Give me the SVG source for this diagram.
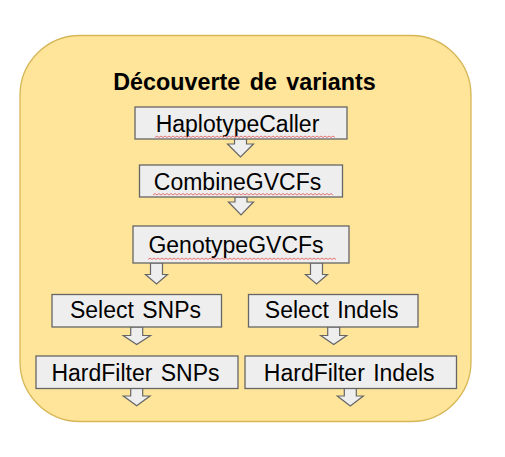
<svg xmlns="http://www.w3.org/2000/svg" width="505" height="457" viewBox="0 0 505 457">
  <style>
    .box { fill: #EEEEEE; stroke: #666666; stroke-width: 1.3; }
    .lbl { font-family: "Liberation Sans", Arial, sans-serif; font-size: 23px; fill: #000000; text-anchor: middle; word-spacing: 2px; }
    .title { font-family: "Liberation Sans", Arial, sans-serif; font-size: 23.3px; font-weight: bold; fill: #000000; text-anchor: middle; word-spacing: 3px; }
    .arr { fill: #EEEEEE; stroke: #666666; stroke-width: 1.2; stroke-linejoin: miter; }
    .squig { fill: none; stroke: #E57373; stroke-width: 1; }
  </style>
  <g id="container">
    <rect x="20" y="35.5" width="451" height="386" rx="60" ry="60" fill="#FFE599" stroke="#D6B656" stroke-width="1.3"/>
    <text class="title" x="244.5" y="90">Découverte de variants</text>
  </g>
  <g id="connectors">
    <polygon class="arr" points="234.5,139 246.5,139 246.5,144 253.5,144 240.5,157 227.5,144 234.5,144"/>
    <polygon class="arr" points="235,197 247,197 247,202 253.5,202 241,215 228.5,202 235,202"/>
    <polygon class="arr" points="150.5,263 162.5,263 162.5,274.5 167.5,274.5 156.5,284 145.5,274.5 150.5,274.5"/>
    <polygon class="arr" points="310.5,263 322.5,263 322.5,274.5 327.5,274.5 316.5,284 305.5,274.5 310.5,274.5"/>
    <polygon class="arr" points="130.7,327 142.7,327 142.7,335.5 150.5,335.5 136.7,344.5 123.2,335.5 130.7,335.5"/>
    <polygon class="arr" points="327.7,327 339.7,327 339.7,335.5 346.7,335.5 333.7,344.5 320.7,335.5 327.7,335.5"/>
    <polygon class="arr" points="130.7,388 142.7,388 142.7,396 150,396 136.7,405.7 123.3,396 130.7,396"/>
    <polygon class="arr" points="344.3,388 356.3,388 356.3,396 363.3,396 350.3,406 337.3,396 344.3,396"/>
  </g>
  <g id="n-haplotypecaller">
    <rect class="box" x="135" y="107" width="212" height="32"/>
    <text class="lbl" x="237.5" y="131.5">HaplotypeCaller</text>
    <path class="squig" d="M155,137.5 l2,-1.5 l2,1.5 l2,-1.5 l2,1.5 l2,-1.5 l2,1.5 l2,-1.5 l2,1.5 l2,-1.5 l2,1.5 l2,-1.5 l2,1.5 l2,-1.5 l2,1.5 l2,-1.5 l2,1.5 l2,-1.5 l2,1.5 l2,-1.5 l2,1.5 l2,-1.5 l2,1.5 l2,-1.5 l2,1.5 l2,-1.5 l2,1.5 l2,-1.5 l2,1.5 l2,-1.5 l2,1.5 l2,-1.5 l2,1.5 l2,-1.5 l2,1.5 l2,-1.5 l2,1.5 l2,-1.5 l2,1.5 l2,-1.5 l2,1.5 l2,-1.5 l2,1.5 l2,-1.5 l2,1.5 l2,-1.5 l2,1.5 l2,-1.5 l2,1.5 l2,-1.5 l2,1.5 l2,-1.5 l2,1.5 l2,-1.5 l2,1.5 l2,-1.5 l2,1.5 l2,-1.5 l2,1.5 l2,-1.5 l2,1.5 l2,-1.5 l2,1.5 l2,-1.5 l2,1.5 l2,-1.5 l2,1.5 l2,-1.5 l2,1.5 l2,-1.5 l2,1.5 l2,-1.5 l2,1.5 l2,-1.5 l2,1.5 l2,-1.5 l2,1.5 l2,-1.5 l2,1.5 l2,-1.5 l2,1.5 l2,-1.5 l2,1.5 l2,-1.5 l2,1.5 l2,-1.5 l2,1.5 l2,-1.5 l2,1.5 l2,-1.5 l2,1.5"/>
  </g>
  <g id="n-combinegvcfs">
    <rect class="box" x="139.5" y="165" width="203" height="32"/>
    <text class="lbl" x="237.5" y="189.5">CombineGVCFs</text>
    <path class="squig" d="M153,195 l2,-1.5 l2,1.5 l2,-1.5 l2,1.5 l2,-1.5 l2,1.5 l2,-1.5 l2,1.5 l2,-1.5 l2,1.5 l2,-1.5 l2,1.5 l2,-1.5 l2,1.5 l2,-1.5 l2,1.5 l2,-1.5 l2,1.5 l2,-1.5 l2,1.5 l2,-1.5 l2,1.5 l2,-1.5 l2,1.5 l2,-1.5 l2,1.5 l2,-1.5 l2,1.5 l2,-1.5 l2,1.5 l2,-1.5 l2,1.5 l2,-1.5 l2,1.5 l2,-1.5 l2,1.5 l2,-1.5 l2,1.5 l2,-1.5 l2,1.5 l2,-1.5 l2,1.5 l2,-1.5 l2,1.5 l2,-1.5 l2,1.5 l2,-1.5 l2,1.5 l2,-1.5 l2,1.5 l2,-1.5 l2,1.5 l2,-1.5 l2,1.5 l2,-1.5 l2,1.5 l2,-1.5 l2,1.5 l2,-1.5 l2,1.5 l2,-1.5 l2,1.5 l2,-1.5 l2,1.5 l2,-1.5 l2,1.5 l2,-1.5 l2,1.5 l2,-1.5 l2,1.5 l2,-1.5 l2,1.5 l2,-1.5 l2,1.5 l2,-1.5 l2,1.5 l2,-1.5 l2,1.5 l2,-1.5 l2,1.5 l2,-1.5 l2,1.5 l2,-1.5 l2,1.5 l2,-1.5 l2,1.5 l2,-1.5 l2,1.5 l2,-1.5 l2,1.5"/>
  </g>
  <g id="n-genotypegvcfs">
    <rect class="box" x="133" y="226" width="216" height="37"/>
    <text class="lbl" x="236" y="252.5">GenotypeGVCFs</text>
    <path class="squig" d="M148,259.5 l2,-1.5 l2,1.5 l2,-1.5 l2,1.5 l2,-1.5 l2,1.5 l2,-1.5 l2,1.5 l2,-1.5 l2,1.5 l2,-1.5 l2,1.5 l2,-1.5 l2,1.5 l2,-1.5 l2,1.5 l2,-1.5 l2,1.5 l2,-1.5 l2,1.5 l2,-1.5 l2,1.5 l2,-1.5 l2,1.5 l2,-1.5 l2,1.5 l2,-1.5 l2,1.5 l2,-1.5 l2,1.5 l2,-1.5 l2,1.5 l2,-1.5 l2,1.5 l2,-1.5 l2,1.5 l2,-1.5 l2,1.5 l2,-1.5 l2,1.5 l2,-1.5 l2,1.5 l2,-1.5 l2,1.5 l2,-1.5 l2,1.5 l2,-1.5 l2,1.5 l2,-1.5 l2,1.5 l2,-1.5 l2,1.5 l2,-1.5 l2,1.5 l2,-1.5 l2,1.5 l2,-1.5 l2,1.5 l2,-1.5 l2,1.5 l2,-1.5 l2,1.5 l2,-1.5 l2,1.5 l2,-1.5 l2,1.5 l2,-1.5 l2,1.5 l2,-1.5 l2,1.5 l2,-1.5 l2,1.5 l2,-1.5 l2,1.5 l2,-1.5 l2,1.5 l2,-1.5 l2,1.5 l2,-1.5 l2,1.5 l2,-1.5 l2,1.5 l2,-1.5 l2,1.5 l2,-1.5 l2,1.5 l2,-1.5 l2,1.5 l2,-1.5 l2,1.5 l2,-1.5 l2,1.5 l2,-1.5 l2,1.5"/>
  </g>
  <g id="n-selectsnps">
    <rect class="box" x="52" y="294.5" width="169.5" height="32.5"/>
    <text class="lbl" x="135.5" y="317.5">Select SNPs</text>
  </g>
  <g id="n-selectindels">
    <rect class="box" x="248.5" y="294.5" width="169.5" height="32.5"/>
    <text class="lbl" x="331.7" y="317.5">Select Indels</text>
  </g>
  <g id="n-hardfiltersnps">
    <rect class="box" x="36" y="356" width="202" height="32.5"/>
    <text class="lbl" x="135.5" y="380.7">HardFilter SNPs</text>
  </g>
  <g id="n-hardfilterindels">
    <rect class="box" x="245" y="356" width="211.5" height="32.5"/>
    <text class="lbl" x="349.2" y="380.7">HardFilter Indels</text>
  </g>
</svg>
